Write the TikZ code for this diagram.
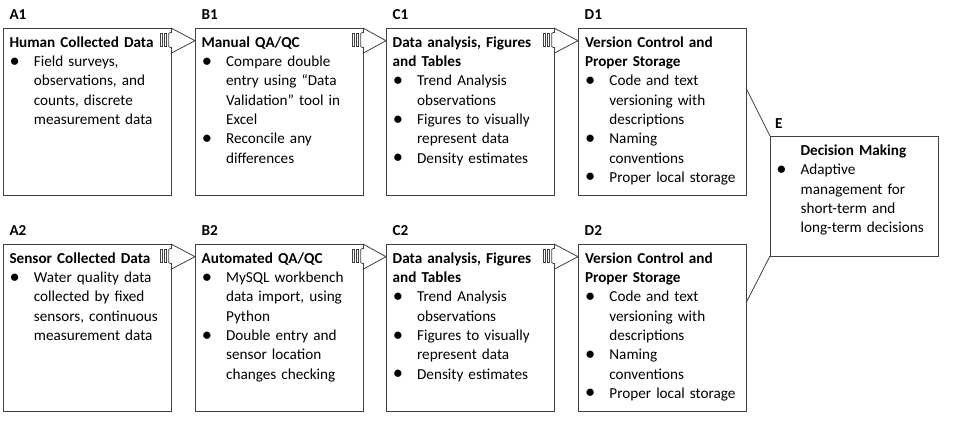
\documentclass[tikz,border=0pt]{standalone}
\usepackage{graphicx}
\usepackage{fontspec}
\setmainfont{Carlito}

\definecolor{boxline}{RGB}{64,64,64}

% bullet line and its continuation lines
\newcommand\bl[1]{\makebox[24.4pt][l]{\hspace{0.2pt}\raisebox{-0.6pt}{\scalebox{1.35}{\textbullet}}}#1}
\newcommand\bc[1]{\hspace*{24.4pt}#1}

% chevron joining two boxes, with the notch and grip bars on the source box
\newcommand\chev[2]{%
  \fill[white] ([xshift=-0.7pt,yshift=-4.6pt]#1.north east) rectangle ([xshift=0.7pt,yshift=-19.4pt]#1.north east);
  \draw[link] ([yshift=-4.2pt]#1.north east) -- ([xshift=-2.2pt,yshift=-5.4pt]#1.north east)
     -- ([xshift=-2.2pt,yshift=-18.6pt]#1.north east) -- ([yshift=-19.8pt]#1.north east);
  \draw[link, line width=0.6pt] ([xshift=-10.6pt,yshift=-5.6pt]#1.north east) rectangle ([xshift=-8.4pt,yshift=-18.4pt]#1.north east);
  \draw[link, line width=0.6pt] ([xshift=-7pt,yshift=-5.6pt]#1.north east) rectangle ([xshift=-5pt,yshift=-18.4pt]#1.north east);
  \draw[link] (#1.north east) -- ([yshift=-12.7pt]#2.north west) -- ([yshift=-25.3pt]#1.north east);
}

\begin{document}
\begin{tikzpicture}[x=1pt,y=-1pt,
  every node/.style={font=\fontsize{15.2}{19.3}\selectfont},
  box/.style={draw=boxline, line width=0.8pt, minimum width=168pt, minimum height=167pt,
              anchor=north west, inner sep=0pt, outer sep=0pt},
  tag/.style={font=\fontsize{15.2}{19.3}\selectfont\bfseries, anchor=base west, inner sep=0pt},
  body/.style={anchor=base west, inner sep=0pt, align=left, text width=175pt},
  link/.style={draw=boxline, line width=0.8pt, line join=miter},
]
\fill[white] (0,0) rectangle (955,435);
\useasboundingbox (0,0) rectangle (955,435);

% boxes
\node[box] (A1) at (3,28) {};
\node[box] (B1) at (195,28) {};
\node[box] (C1) at (386,28) {};
\node[box] (D1) at (578,28) {};
\node[box] (A2) at (3,244) {};
\node[box] (B2) at (195,244) {};
\node[box] (C2) at (386,244) {};
\node[box] (D2) at (578,244) {};
\node[box, minimum height=120pt] (E) at (770,136) {};

% step tags
\node[tag] (tA1) at ([xshift=6.3pt,yshift=8pt]A1.north west) {A1};
\node[tag] (tB1) at ([xshift=6.5pt,yshift=8pt]B1.north west) {B1};
\node[tag] (tC1) at ([xshift=6.5pt,yshift=8pt]C1.north west) {C1};
\node[tag] (tD1) at ([xshift=6.5pt,yshift=8pt]D1.north west) {D1};
\node[tag] (tA2) at ([xshift=6.3pt,yshift=8pt]A2.north west) {A2};
\node[tag] (tB2) at ([xshift=6.5pt,yshift=8pt]B2.north west) {B2};
\node[tag] (tC2) at ([xshift=6.5pt,yshift=8pt]C2.north west) {C2};
\node[tag] (tD2) at ([xshift=6.5pt,yshift=8pt]D2.north west) {D2};
\node[tag] (tE)  at ([xshift=5pt,yshift=7pt]E.north west) {E};

% box contents
\node[body] (xA1) at ([xshift=6.3pt,yshift=-19.3pt]A1.north west) {%
  \textbf{Human Collected Data}\\
  \bl{Field surveys,}\\
  \bc{observations, and}\\
  \bc{counts, discrete}\\
  \bc{measurement data}};
\node[body] (xB1) at ([xshift=6.5pt,yshift=-19.3pt]B1.north west) {%
  \textbf{Manual QA/QC}\\
  \bl{Compare double}\\
  \bc{entry using “Data}\\
  \bc{Validation” tool in}\\
  \bc{Excel}\\
  \bl{Reconcile any}\\
  \bc{differences}};
\node[body] (xC1) at ([xshift=6.5pt,yshift=-19.3pt]C1.north west) {%
  \textbf{Data analysis, Figures}\\
  \textbf{and Tables}\\
  \bl{Trend Analysis}\\
  \bc{observations}\\
  \bl{Figures to visually}\\
  \bc{represent data}\\
  \bl{Density estimates}};
\node[body] (xD1) at ([xshift=6.8pt,yshift=-19.3pt]D1.north west) {%
  \textbf{Version Control and}\\
  \textbf{Proper Storage}\\
  \bl{Code and text}\\
  \bc{versioning with}\\
  \bc{descriptions}\\
  \bl{Naming}\\
  \bc{conventions}\\
  \bl{Proper local storage}};
\node[body] (xA2) at ([xshift=6.3pt,yshift=-19.3pt]A2.north west) {%
  \textbf{Sensor Collected Data}\\
  \bl{Water quality data}\\
  \bc{collected by fixed}\\
  \bc{sensors, continuous}\\
  \bc{measurement data}};
\node[body] (xB2) at ([xshift=6.5pt,yshift=-19.3pt]B2.north west) {%
  \textbf{Automated QA/QC}\\
  \bl{MySQL workbench}\\
  \bc{data import, using}\\
  \bc{Python}\\
  \bl{Double entry and}\\
  \bc{sensor location}\\
  \bc{changes checking}};
\node[body] (xC2) at ([xshift=6.5pt,yshift=-19.3pt]C2.north west) {%
  \textbf{Data analysis, Figures}\\
  \textbf{and Tables}\\
  \bl{Trend Analysis}\\
  \bc{observations}\\
  \bl{Figures to visually}\\
  \bc{represent data}\\
  \bl{Density estimates}};
\node[body] (xD2) at ([xshift=6.8pt,yshift=-19.3pt]D2.north west) {%
  \textbf{Version Control and}\\
  \textbf{Proper Storage}\\
  \bl{Code and text}\\
  \bc{versioning with}\\
  \bc{descriptions}\\
  \bl{Naming}\\
  \bc{conventions}\\
  \bl{Proper local storage}};
\node[body] (xE) at ([xshift=6pt,yshift=-19.5pt]E.north west) {%
  \bc{\textbf{Decision Making}}\\
  \bl{Adaptive}\\
  \bc{management for}\\
  \bc{short-term and}\\
  \bc{long-term decisions}};

% chevrons between steps
\chev{A1}{B1}
\chev{B1}{C1}
\chev{C1}{D1}
\chev{A2}{B2}
\chev{B2}{C2}
\chev{C2}{D2}

% both storage steps feed the decision box
\draw[link] ([yshift=-60pt]D1.north east) -- (E.north west);
\draw[link] ([yshift=-59pt]D2.north east) -- (E.south west);
\end{tikzpicture}
\end{document}
